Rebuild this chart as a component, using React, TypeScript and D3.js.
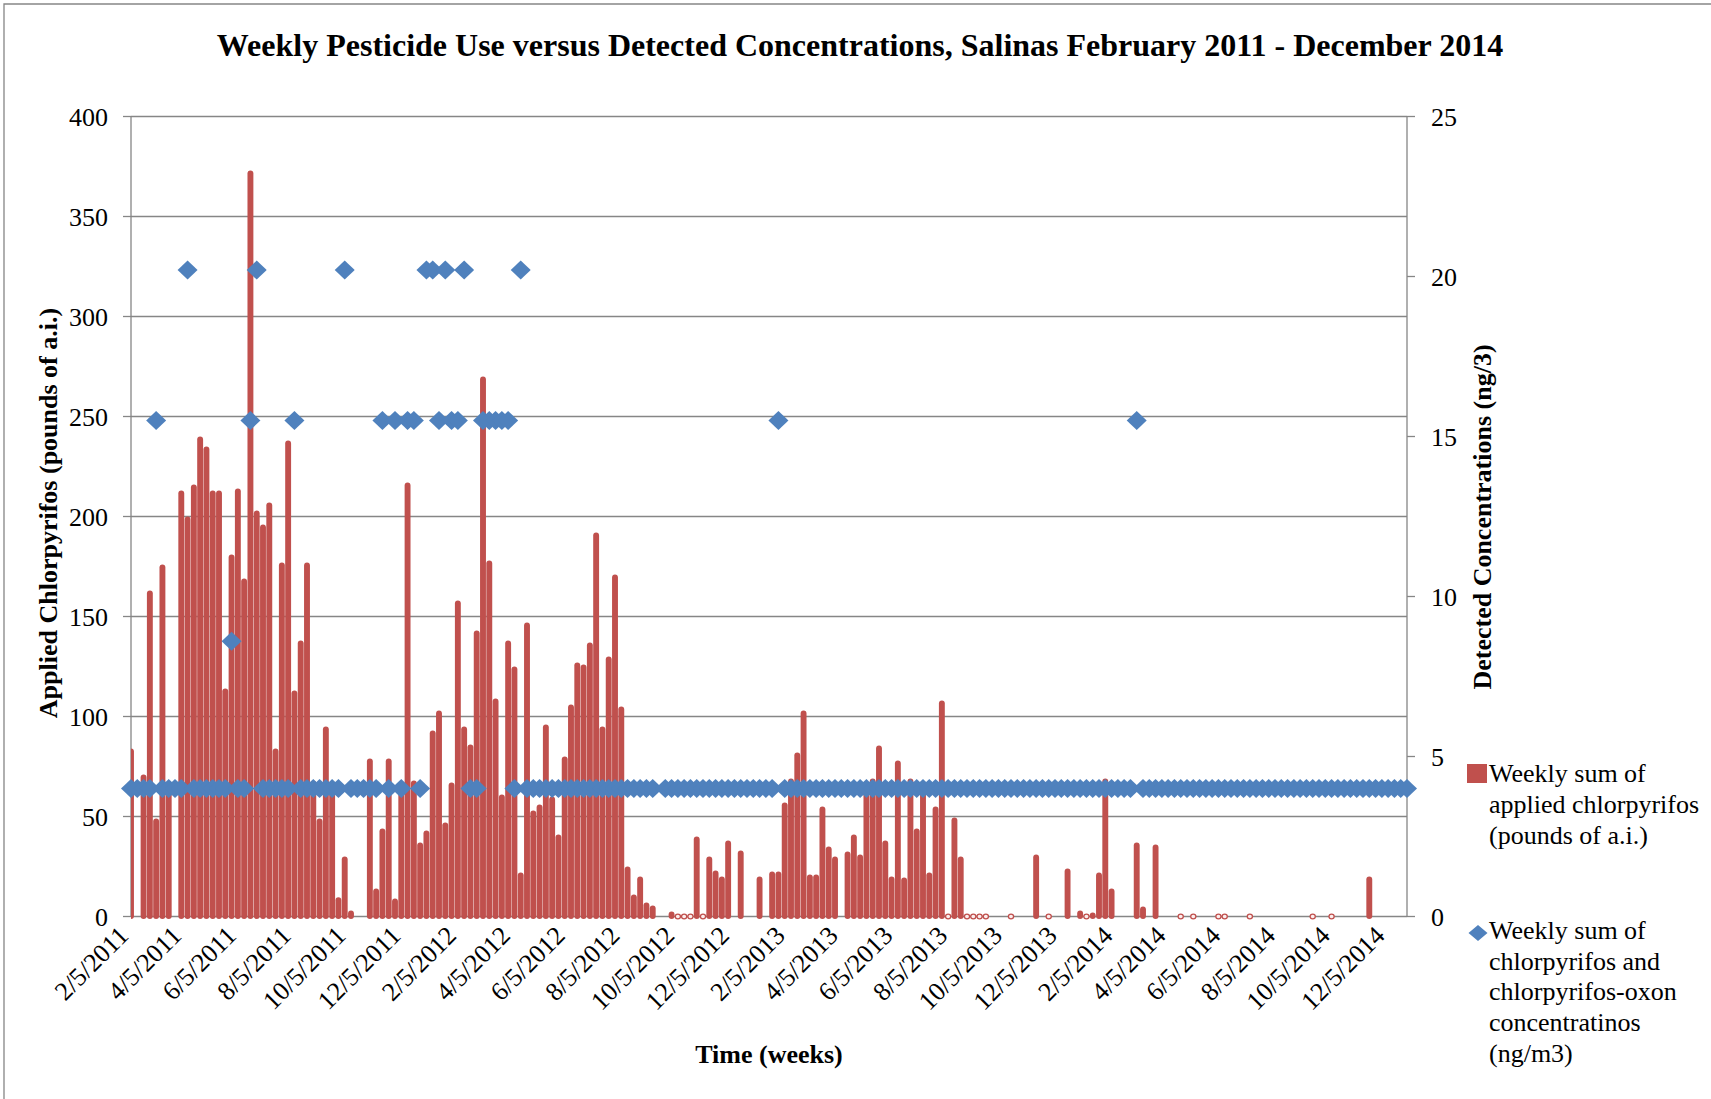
import React from 'react';
import * as d3 from 'd3';

// Weekly sums of applied chlorpyrifos (pounds of a.i.), weeks starting 2/5/2011; null = no report that week
const applied2011: (number | null)[] = [
  84, null, 71, 163, 49, 176, 62, null, 213, 200,
  216, 240, 235, 213, 213, 114, 181, 214, 169, 373,
  203, 196, 207, 84, 177, 238, 113, 138, 177, 68,
  49, 95, 62, 9.6, 30, 3, null, null, 79, 14,
  44, 79, 9, 65, 217, 68, 37, 43,
];
const applied2012: (number | null)[] = [
  93, 103, 47, 67, 158, 95, 86, 143, 270, 178,
  109, 61, 138, 125, 22, 147, 53, 56, 96, 60,
  41, 80, 106, 127, 126, 137, 192, 95, 130, 171,
  105, 25, 11, 20, 7, 5.5, null, null, 2.5, 0,
  0, 0, 40, 0, 30, 23, 20, 38, null, 33,
  null, null,
];
const applied2013: (number | null)[] = [
  20, null, 22.5, 22.5, 57, 69, 82, 103, 21, 21,
  55, 35, 30, null, 32.5, 41, 31, 62, 69, 85.5,
  38, 20, 78, 19.5, 69, 44, 62, 22, 55, 108,
  0, 49.5, 30, 0, 0, 0, 0, null, null, null,
  0, null, null, null, 31, null, 0, null, null, 24,
  null, 3,
];
const applied2014: (number | null)[] = [
  0, 2, 22, 69, 14, null, null, null, 37, 5,
  null, 36, null, null, null, 0, null, 0, null, null,
  null, 0, 1, null, null, null, 0, null, null, null,
  null, null, null, null, null, null, 0, null, null, 0,
  null, null, null, null, null, 20, null, null, null, null,
  null, null,
];

// Weekly sums of chlorpyrifos + chlorpyrifos-oxon air concentrations (ng/m3)
const conc2011: (number | null)[] = [
  4, 4, 4, 4, 15.5, 4, 4, 4, 4, 20.2,
  4, 4, 4, 4, 4, 4, 8.6, 4, 4, 15.5,
  20.2, 4, 4, 4, 4, 4, 15.5, 4, 4, 4,
  4, 4, 4, 4, 20.2, 4, 4, 4, 4, 4,
  15.5, 4, 15.5, 4, 15.5, 15.5, 4, 20.2,
];
const conc2012: (number | null)[] = [
  20.2, 15.5, 20.2, 15.5, 15.5, 20.2, 4, 4, 15.5, 15.5,
  15.5, 15.5, 15.5, 4, 20.2, 4, 4, 4, 4, 4,
  4, 4, 4, 4, 4, 4, 4, 4, 4, 4,
  4, 4, 4, 4, 4, 4, null, 4, 4, 4,
  4, 4, 4, 4, 4, 4, 4, 4, 4, 4,
  4, 4,
];
const conc2013: (number | null)[] = [
  4, 4, 4, 15.5, 4, 4, 4, 4, 4, 4,
  4, 4, 4, 4, 4, 4, 4, 4, 4, 4,
  4, 4, 4, 4, 4, 4, 4, 4, 4, 4,
  4, 4, 4, 4, 4, 4, 4, 4, 4, 4,
  4, 4, 4, 4, 4, 4, 4, 4, 4, 4,
  4, 4,
];
const conc2014: (number | null)[] = [
  4, 4, 4, 4, 4, 4, 4, 4, 15.5, 4,
  4, 4, 4, 4, 4, 4, 4, 4, 4, 4,
  4, 4, 4, 4, 4, 4, 4, 4, 4, 4,
  4, 4, 4, 4, 4, 4, 4, 4, 4, 4,
  4, 4, 4, 4, 4, 4, 4, 4, 4, 4,
  4, 4,
];

const firstWeek = '2/5/2011';
const leftTicks = [0, 50, 100, 150, 200, 250, 300, 350, 400];
const rightTicks = [0, 5, 10, 15, 20, 25];
const xTickLabels = [
  '2/5/2011', '4/5/2011', '6/5/2011', '8/5/2011', '10/5/2011', '12/5/2011',
  '2/5/2012', '4/5/2012', '6/5/2012', '8/5/2012', '10/5/2012', '12/5/2012',
  '2/5/2013', '4/5/2013', '6/5/2013', '8/5/2013', '10/5/2013', '12/5/2013',
  '2/5/2014', '4/5/2014', '6/5/2014', '8/5/2014', '10/5/2014', '12/5/2014',
];

const TITLE = 'Weekly Pesticide Use versus Detected Concentrations, Salinas February 2011 - December 2014';
const Y_LEFT_TITLE = 'Applied Chlorpyrifos (pounds of a.i.)';
const Y_RIGHT_TITLE = 'Detected Concentrations (ng/3)';
const X_TITLE = 'Time (weeks)';
const LEGEND_BARS = ['Weekly sum of', 'applied chlorpyrifos', '(pounds of a.i.)'];
const LEGEND_POINTS = ['Weekly sum of', 'chlorpyrifos and', 'chlorpyrifos-oxon', 'concentratinos', '(ng/m3)'];

const W = 1711;
const H = 1099;
const PL = 131;
const PR = 1407;
const PT = 116.5;
const PB = 916.5;
const RED = '#C0504D';
const BLUE = '#4F81BD';
const GRID = '#868686';
const FONT = "'Liberation Serif', 'Times New Roman', serif";

const parseDate = (s: string) => {
  const [m, d, y] = s.split('/').map(Number);
  return new Date(Date.UTC(y, m - 1, d));
};

const applied = [...applied2011, ...applied2012, ...applied2013, ...applied2014];
const conc = [...conc2011, ...conc2012, ...conc2013, ...conc2014];
const start = parseDate(firstWeek);
const weekDate = (i: number) => d3.utcDay.offset(start, i * 7);

export default function App() {
  const x = d3.scaleUtc().domain([start, weekDate(applied.length - 1)]).range([PL, PR]);
  const yL = d3.scaleLinear().domain([0, 400]).range([PB, PT]);
  const yR = d3.scaleLinear().domain([0, 25]).range([PB, PT]);
  const barW = 5.9;
  const dW = 20;
  const dH = 19;
  const diamond = (cx: number, cy: number, w: number, h: number) =>
    `M${cx},${cy - h / 2}L${cx + w / 2},${cy}L${cx},${cy + h / 2}L${cx - w / 2},${cy}Z`;

  return (
    <svg
      width={W}
      height={H}
      style={{ position: 'absolute', left: 0, top: 0, background: '#fff' }}
      fontFamily={FONT}
    >
      <rect width={W} height={H} fill="#fff" />
      {/* chart frame */}
      <path d={`M4,${H}V4H${W}`} fill="none" stroke={GRID} strokeWidth={1.3} />

      <defs>
        <clipPath id="plotClip">
          <rect x={PL} y={0} width={PR - PL} height={H} />
        </clipPath>
      </defs>

      <text x={860} y={56} textAnchor="middle" fontSize={32} fontWeight="bold">
        {TITLE}
      </text>

      {/* gridlines */}
      {leftTicks.map((t) => (
        <line key={'g' + t} x1={PL} x2={PR} y1={yL(t)} y2={yL(t)} stroke={GRID} strokeWidth={1.3} />
      ))}
      <line x1={PL} x2={PL} y1={PT} y2={PB} stroke={GRID} strokeWidth={1.3} />
      <line x1={PR} x2={PR} y1={PT} y2={PB} stroke={GRID} strokeWidth={1.3} />

      {/* left axis */}
      {leftTicks.map((t) => (
        <g key={'l' + t}>
          <line x1={PL - 8} x2={PL} y1={yL(t)} y2={yL(t)} stroke={GRID} strokeWidth={1.3} />
          <text x={108} y={yL(t)} dy="0.35em" textAnchor="end" fontSize={26}>
            {t}
          </text>
        </g>
      ))}
      {/* right axis */}
      {rightTicks.map((t) => (
        <g key={'r' + t}>
          <line x1={PR} x2={PR + 8} y1={yR(t)} y2={yR(t)} stroke={GRID} strokeWidth={1.3} />
          <text x={1431} y={yR(t)} dy="0.35em" textAnchor="start" fontSize={26}>
            {t}
          </text>
        </g>
      ))}

      {/* bars */}
      <g clipPath="url(#plotClip)">
        {applied.map((v, i) => {
          if (v === null) return null;
          const cx = x(weekDate(i));
          if (v <= 1) {
            return (
              <ellipse key={'b' + i} cx={cx} cy={PB} rx={2.6} ry={2.4} fill="#fbeeee" stroke={RED} strokeWidth={1.3} />
            );
          }
          const top = yL(v);
          return (
            <rect
              key={'b' + i}
              x={cx - barW / 2}
              y={top}
              width={barW}
              height={PB - top + 2.5}
              rx={barW / 2}
              ry={Math.min(barW / 2, (PB - top + 2.5) / 2)}
              fill={RED}
            />
          );
        })}
      </g>

      {/* concentration markers */}
      <g>
        {conc.map((v, i) =>
          v === null ? null : (
            <path key={'d' + i} d={diamond(x(weekDate(i)), yR(v), dW, dH)} fill={BLUE} />
          )
        )}
      </g>

      {/* x tick labels */}
      {xTickLabels.map((s) => {
        const tx = x(parseDate(s));
        return (
          <text
            key={s}
            transform={`translate(${tx - 1},${937}) rotate(-45)`}
            textAnchor="end"
            fontSize={26}
          >
            {s}
          </text>
        );
      })}

      {/* axis titles */}
      <text x={769} y={1063} textAnchor="middle" fontSize={26} fontWeight="bold">
        {X_TITLE}
      </text>
      <text
        transform={`translate(${57},${513}) rotate(-90)`}
        textAnchor="middle"
        fontSize={26}
        fontWeight="bold"
      >
        {Y_LEFT_TITLE}
      </text>
      <text
        transform={`translate(${1491},${517}) rotate(-90)`}
        textAnchor="middle"
        fontSize={26}
        fontWeight="bold"
      >
        {Y_RIGHT_TITLE}
      </text>

      {/* legend */}
      <rect x={1467} y={764} width={20} height={19} fill={RED} />
      {LEGEND_BARS.map((s, i) => (
        <text key={'lb' + i} x={1489} y={782 + i * 30.8} fontSize={26}>
          {s}
        </text>
      ))}
      <path d={diamond(1478, 933, 19, 16)} fill={BLUE} />
      {LEGEND_POINTS.map((s, i) => (
        <text key={'lp' + i} x={1489} y={939 + i * 30.7} fontSize={26}>
          {s}
        </text>
      ))}
    </svg>
  );
}
